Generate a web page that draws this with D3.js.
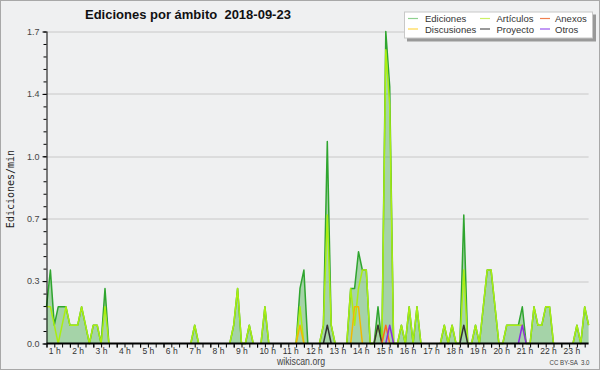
<!DOCTYPE html>
<html>
<head>
<meta charset="utf-8">
<script src="https://cdn.jsdelivr.net/npm/d3@7/dist/d3.min.js"></script>
<style>
  body { margin: 0; background: #fff; }
</style>
</head>
<body>
<div id="chart-area"></div>
<script>
// ediciones por minuto, un valor cada 10 min desde la 1 h
var hourLabels = ["1 h","2 h","3 h","4 h","5 h","6 h","7 h","8 h","9 h","10 h","11 h","12 h",
                  "13 h","14 h","15 h","16 h","17 h","18 h","19 h","20 h","21 h","22 h","23 h"];
var yTicks = [0, 0.34, 0.68, 1.02, 1.36, 1.7];

var ediciones = [
  0.2,0.4,0.1,0.2,0.2,0.2,0.1,0.1,0.1,0.2,
  0.1,0,0.1,0.1,0,0.3,0,0,0,0,
  0,0,0,0,0,0,0,0,0,0,
  0,0,0,0,0,0,0,0,0.1,0,
  0,0,0,0,0,0,0,0,0.1,0.3,
  0,0,0.1,0,0,0,0.2,0,0,0,
  0,0,0,0,0,0.3,0.4,0,0,0,
  0,0.1,1.1,0.1,0,0,0,0,0.3,0.3,
  0.5,0.4,0.4,0,0,0.2,0,1.7,1.4,0,
  0,0.1,0,0.2,0,0.2,0,0,0,0,
  0,0,0.1,0,0.1,0,0,0.7,0,0,
  0.1,0,0.2,0.4,0.4,0.2,0,0,0.1,0.1,
  0.1,0.1,0.2,0,0,0.2,0.1,0.1,0.2,0.2,
  0,0,0,0,0,0,0.1,0,0.2,0.1
];
var articulos = [
  0.2,0.2,0.1,0,0.1,0.2,0.1,0.1,0.1,0.2,
  0.1,0,0.1,0.1,0,0.2,0,0,0,0,
  0,0,0,0,0,0,0,0,0,0,
  0,0,0,0,0,0,0,0,0.1,0,
  0,0,0,0,0,0,0,0,0.1,0.3,
  0,0,0.1,0,0,0,0.2,0,0,0,
  0,0,0,0,0,0.2,0,0,0,0,
  0,0.1,0.7,0.1,0,0,0,0,0.3,0.1,
  0.3,0.4,0.4,0,0,0.1,0,1.6,1.3,0,
  0,0.1,0,0.2,0,0.2,0,0,0,0,
  0,0,0.1,0,0.1,0,0,0.4,0,0,
  0.1,0,0.2,0.4,0.4,0.2,0,0,0.1,0.1,
  0.1,0.1,0.1,0,0,0.2,0.1,0.1,0.2,0.2,
  0,0,0,0,0,0,0.1,0,0.2,0.1
];
var discusiones = [
  0,0,0,0,0,0,0,0,0,0, 0,0,0,0,0,0,0,0,0,0,
  0,0,0,0,0,0,0,0,0,0, 0,0,0,0,0,0,0,0,0,0,
  0,0,0,0,0,0,0,0,0,0, 0,0,0,0,0,0,0,0,0,0,
  0,0,0,0,0,0.1,0,0,0,0, 0,0,0,0,0,0,0,0,0,0.2,
  0.2,0,0,0,0,0,0,0,0,0, 0,0,0,0,0,0,0,0,0,0,
  0,0,0,0,0,0,0,0,0,0, 0,0,0,0,0,0,0,0,0,0,
  0,0,0,0,0,0,0,0,0,0, 0,0,0,0,0,0,0,0,0,0
];
var proyecto = [
  0,0,0,0,0,0,0,0,0,0, 0,0,0,0,0,0,0,0,0,0,
  0,0,0,0,0,0,0,0,0,0, 0,0,0,0,0,0,0,0,0,0,
  0,0,0,0,0,0,0,0,0,0, 0,0,0,0,0,0,0,0,0,0,
  0,0,0,0,0,0,0,0,0,0, 0,0,0.1,0,0,0,0,0,0,0,
  0,0,0,0,0,0.1,0,0,0,0, 0,0,0,0,0,0,0,0,0,0,
  0,0,0,0,0,0,0,0.1,0,0, 0,0,0,0,0,0,0,0,0,0,
  0,0,0,0,0,0,0,0,0,0, 0,0,0,0,0,0,0,0,0,0
];
var anexos = [
  0,0,0,0,0,0,0,0,0,0, 0,0,0,0,0,0,0,0,0,0,
  0,0,0,0,0,0,0,0,0,0, 0,0,0,0,0,0,0,0,0,0,
  0,0,0,0,0,0,0,0,0,0, 0,0,0,0,0,0,0,0,0,0,
  0,0,0,0,0,0,0,0,0,0, 0,0,0,0,0,0,0,0,0,0,
  0,0,0,0,0,0,0,0.1,0,0, 0,0,0,0,0,0,0,0,0,0,
  0,0,0,0,0,0,0,0,0,0, 0,0,0,0,0,0,0,0,0,0,
  0,0,0,0,0,0,0,0,0,0, 0,0,0,0,0,0,0,0,0,0
];
var otros = [
  0,0,0,0,0,0,0,0,0,0, 0,0,0,0,0,0,0,0,0,0,
  0,0,0,0,0,0,0,0,0,0, 0,0,0,0,0,0,0,0,0,0,
  0,0,0,0,0,0,0,0,0,0, 0,0,0,0,0,0,0,0,0,0,
  0,0,0,0,0,0,0,0,0,0, 0,0,0,0,0,0,0,0,0,0,
  0,0,0,0,0,0,0,0,0.1,0, 0,0,0,0,0,0,0,0,0,0,
  0,0,0,0,0,0,0,0,0,0, 0,0,0,0,0,0,0,0,0,0,
  0,0,0.1,0,0,0,0,0,0,0, 0,0,0,0,0,0,0,0,0,0
];

var series = [
  { name: "Ediciones",   values: ediciones,   color: "#2fa52f", legend: "#8fd08f" },
  { name: "Discusiones", values: discusiones, color: "#f2b800", legend: "#ffd84a" },
  { name: "Artículos",   values: articulos,   color: "#aaee11", legend: "#ccf066" },
  { name: "Proyecto",    values: proyecto,    color: "#333333", legend: "#555555" },
  { name: "Anexos",      values: anexos,      color: "#ff6a1a", legend: "#f08050" },
  { name: "Otros",       values: otros,       color: "#8a2be2", legend: "#9955ee" }
];

var svgWidth = 600, svgHeight = 370;
var margin = { top: 31.5, left: 46.5, right: 11.4, bottom: 26.5 };
var width  = svgWidth - margin.left - margin.right;
var height = svgHeight - margin.top - margin.bottom;

var svg = d3.select("#chart-area")
            .append("svg")
            .attr("width", svgWidth)
            .attr("height", svgHeight)
            .style("display", "block");

svg.append("rect")
   .attr("x", 0.5).attr("y", 0.5)
   .attr("width", svgWidth - 1).attr("height", svgHeight - 1)
   .attr("fill", "#eff0f1")
   .attr("stroke", "#a8a8a8");

var g = svg.append("g")
           .attr("transform", "translate(" + margin.left + "," + margin.top + ")");

// tiempo en horas: primer punto a la 1 h, paso de 10 min
var x = d3.scaleLinear()
          .domain([1, 1 + (ediciones.length - 1) / 6])
          .range([0, width]);
var y = d3.scaleLinear()
          .domain([0, 1.7])
          .range([height, 0]);
var hourOf = (i) => 1 + i / 6;

// grid
g.selectAll("line.grid")
 .data(yTicks.slice(1))
 .enter().append("line")
 .attr("class", "grid")
 .attr("x1", 0).attr("x2", width)
 .attr("y1", (d) => Math.round(y(d)) + 0.5)
 .attr("y2", (d) => Math.round(y(d)) + 0.5)
 .attr("stroke", "#c8c8c8");

// area of total
var area = d3.area()
             .x((d, i) => x(hourOf(i)))
             .y0(height)
             .y1((d) => y(d));
g.append("path")
 .datum(ediciones)
 .attr("d", area)
 .attr("fill", "#4caf50")
 .attr("fill-opacity", 0.45);

var drawOrder = ["Ediciones", "Artículos", "Discusiones", "Proyecto", "Anexos", "Otros"];
drawOrder.forEach((name) => {
    var s = series.find((d) => d.name === name);
    var v = s.values;
    // only where the series leaves the baseline
    var line = d3.line()
                 .defined((d, i) => d > 0 || v[i - 1] > 0 || v[i + 1] > 0)
                 .x((d, i) => x(hourOf(i)))
                 .y((d) => y(d));
    g.append("path")
     .datum(v)
     .attr("d", line)
     .attr("fill", "none")
     .attr("stroke", s.color)
     .attr("stroke-width", 1.5)
     .attr("stroke-linejoin", "round");
});

// axes
var minorY = d3.range(0, 26).map((k) => k * 0.068);
g.append("g")
 .call(d3.axisLeft(y).tickValues(minorY).tickSize(3).tickFormat(""))
 .call((a) => a.select(".domain").remove());
var yAxisGroup = g.append("g")
 .call(d3.axisLeft(y).tickValues(yTicks).tickSize(4).tickPadding(3)
                     .tickFormat(d3.format(".1f")));
yAxisGroup.select(".domain").attr("d", "M0.5," + height + "V0");
yAxisGroup.selectAll("text")
          .attr("font-family", "Liberation Sans")
          .attr("font-size", "9px")
          .attr("fill", "#444");

var minorX = d3.range(0, 70).map((k) => 1 + k / 3).filter((h) => h <= x.domain()[1] + 1e-6);
g.append("g")
 .attr("transform", "translate(0," + height + ")")
 .call(d3.axisBottom(x).tickValues(minorX).tickSize(4).tickFormat(""))
 .call((a) => a.select(".domain").attr("d", "M0,0H" + width).attr("stroke-width", 2));

var xAxisGroup = g.append("g")
 .attr("transform", "translate(0," + height + ")")
 .call(d3.axisBottom(x).tickValues(d3.range(1, 24)).tickSize(4).tickPadding(0)
                       .tickFormat((d, i) => hourLabels[i]));
xAxisGroup.select(".domain").remove();
xAxisGroup.selectAll("text")
          .attr("text-anchor", "start")
          .attr("x", 1.8)
          .attr("font-family", "Liberation Sans")
          .attr("font-size", "8.5px")
          .attr("fill", "#333");

// labels
svg.append("text")
   .attr("transform", "translate(13.5, 189) rotate(-90)")
   .attr("text-anchor", "middle")
   .attr("font-family", "DejaVu Sans Mono")
   .attr("font-size", "10px")
   .attr("fill", "#222")
   .text("Ediciones/min");

svg.append("text")
   .attr("x", 85).attr("y", 18.5)
   .attr("font-family", "Liberation Sans")
   .attr("font-weight", "bold")
   .attr("font-size", "13px")
   .attr("fill", "#111")
   .style("white-space", "pre")
   .text("Ediciones por ámbito  2018-09-23");

svg.append("text")
   .attr("x", 277).attr("y", 364.5)
   .attr("textLength", 48)
   .attr("lengthAdjust", "spacingAndGlyphs")
   .attr("font-family", "Liberation Sans")
   .attr("font-size", "10px")
   .attr("fill", "#444")
   .text("wikiscan.org");

svg.append("text")
   .attr("x", 549.5).attr("y", 364.5)
   .attr("textLength", 40)
   .attr("lengthAdjust", "spacingAndGlyphs")
   .attr("font-family", "Liberation Sans")
   .attr("font-size", "7.5px")
   .attr("fill", "#444")
   .style("white-space", "pre")
   .text("CC BY-SA  3.0");

// legend
var legend = svg.append("g").attr("transform", "translate(404,11.5)");
legend.append("rect")
      .attr("x", 3).attr("y", 3).attr("width", 189).attr("height", 27)
      .attr("fill", "#999");
legend.append("rect")
      .attr("x", 0.5).attr("y", 0.5).attr("width", 188).attr("height", 26)
      .attr("fill", "#fff").attr("stroke", "#c8c8c8");

var legendPos = [[4, 7], [4, 17.5], [76, 7], [76, 17.5], [136, 7], [136, 17.5]];
series.forEach((s, i) => {
    var p = legendPos[i];
    var item = legend.append("g").attr("transform", "translate(" + p[0] + "," + p[1] + ")");
    item.append("line")
        .attr("x1", 0).attr("x2", 10).attr("y1", 0).attr("y2", 0)
        .attr("stroke", s.legend).attr("stroke-width", 1.2);
    item.append("text")
        .attr("x", i < 2 ? 17 : (i < 4 ? 16.5 : 15)).attr("y", 3.5)
        .attr("font-family", "Liberation Sans")
        .attr("font-size", "9.5px")
        .attr("fill", "#333")
        .text(s.name);
});
</script>
</body>
</html>
